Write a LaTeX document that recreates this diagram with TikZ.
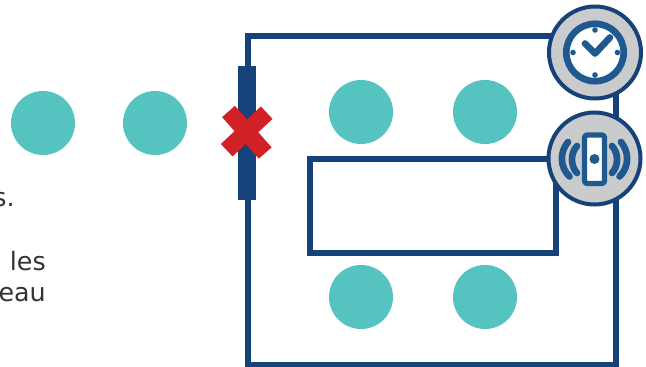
\documentclass[tikz,border=0pt]{standalone}
\usepackage{fontspec}
\setmainfont{DejaVu Sans}
\definecolor{navy}{HTML}{16427A}
\definecolor{iconblue}{HTML}{20598F}
\definecolor{teal}{HTML}{55C3C0}
\definecolor{crossred}{HTML}{D12026}
\definecolor{badgegrey}{HTML}{C9CBCD}
\definecolor{inkgrey}{HTML}{333335}
\begin{document}
\begin{tikzpicture}[x=0.75pt,y=-0.75pt,
  dot/.style={circle,fill=teal,draw=none,minimum size=48pt,inner sep=0pt},
  frame/.style={draw=navy,line width=4pt},
  badge/.style={circle,draw=navy,line width=3pt,fill=badgegrey,minimum size=69pt,inner sep=0pt},
  caption/.style={anchor=base east,inner sep=0pt,text=inkgrey,font=\fontsize{19}{23}\selectfont},
  iconline/.style={draw=iconblue,line cap=round,line join=round},
  smalldot/.style={circle,fill=iconblue,minimum size=4.2pt,inner sep=0pt},
  crossarm/.style={draw=crossred,line width=12.8pt}]
\useasboundingbox (0,0) rectangle (646,367);
% captions
\node[caption] (t1) at (15,206) {s.};
\node[caption] (t2) at (46,270) {les};
\node[caption] (t3) at (46,301.5) {eau};
% teal dots
\node[dot] (d1) at (43,123) {};
\node[dot] (d2) at (155,123) {};
\node[dot] (d3) at (361,112) {};
\node[dot] (d4) at (485,112) {};
\node[dot] (d5) at (361,297) {};
\node[dot] (d6) at (485,297) {};
% frames
\draw[frame] (248,36) rectangle (616,365);
\draw[frame] (310,159) rectangle (556,253);
% barrier
\fill[navy] (238,66) rectangle (256,200);
\draw[crossarm] (228.5,111.5) -- (265.2,153);
\draw[crossarm] (266.7,112.7) -- (226.7,150.2);
% clock badge
\node[badge] (clock) at (595,52.5) {};
\draw[iconline,line width=5pt,fill=white] (595,52.5) circle (28.7);
\node[smalldot] (c1) at (595,30) {};
\node[smalldot] (c2) at (595,75) {};
\node[smalldot] (c3) at (573,52.5) {};
\node[smalldot] (c4) at (617.5,52.5) {};
\draw[iconline,line width=5pt] (585,43.5) -- (595,53.5) -- (610,37.5);
% vibration badge
\node[badge] (phone) at (594.5,158.5) {};
\draw[iconline,line width=4pt,fill=white,rounded corners=2pt] (584.5,135) rectangle (604.5,183.5);
\node[circle,fill=iconblue,minimum size=7.5pt,inner sep=0pt] (pd) at (594.5,159) {};
\draw[iconline,line width=5pt] (577,146) .. controls (570.3,153) and (570.3,166) .. (577,173);
\draw[iconline,line width=5pt] (568,142) .. controls (559.6,152) and (559.6,167) .. (569.5,176.5);
\draw[iconline,line width=5pt] (612,146) .. controls (618.7,153) and (618.7,166) .. (612,173);
\draw[iconline,line width=5pt] (621,142) .. controls (629.4,152) and (629.4,167) .. (619.5,176.5);
\end{tikzpicture}
\end{document}
